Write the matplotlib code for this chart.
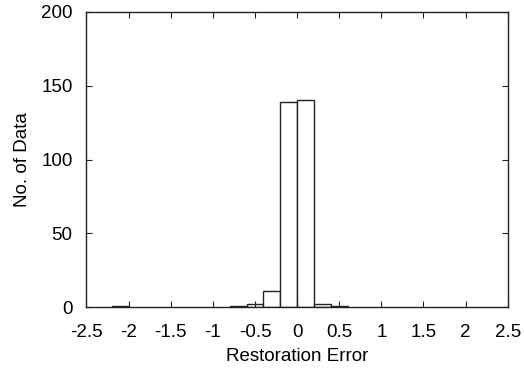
import matplotlib
matplotlib.use("Agg")
import matplotlib.pyplot as plt

# histogram of restoration error, bin width 0.2
bin_left = [-2.2, -0.8, -0.6, -0.4, -0.2, 0.0, 0.2, 0.4]
counts = [1, 1, 2, 11, 139, 140, 2, 1]
bin_width = 0.2

xticks = [-2.5, -2, -1.5, -1, -0.5, 0, 0.5, 1, 1.5, 2, 2.5]
xticklabels = ["-2.5", "-2", "-1.5", "-1", "-0.5", "0", "0.5", "1", "1.5", "2", "2.5"]
yticks = [0, 50, 100, 150, 200]

plt.rcParams['font.family'] = ['Liberation Sans', 'DejaVu Sans']

fig = plt.figure(figsize=(5.24, 3.71), dpi=100)
ax = fig.add_axes([0.165, 0.172, 0.804, 0.796])

ax.bar(bin_left, counts, width=bin_width, align='edge',
       facecolor='white', edgecolor='#222222', linewidth=1.0)

ax.set_xlim(-2.5, 2.5)
ax.set_ylim(0, 200)
ax.set_xticks(xticks)
ax.set_xticklabels(xticklabels)
ax.set_yticks(yticks)
ax.tick_params(direction='in', top=True, right=True, length=4,
               labelsize=13.5, color='#222222')
ax.tick_params(axis='x', pad=12)
ax.tick_params(axis='y', pad=10)
for s in ax.spines.values():
    s.set_linewidth(1.0)
    s.set_color('#222222')

ax.set_xlabel("Restoration Error", fontsize=13.5, labelpad=5)
ax.set_ylabel("No. of Data", fontsize=13.5, labelpad=7)

fig.savefig("out.png", dpi=100)
